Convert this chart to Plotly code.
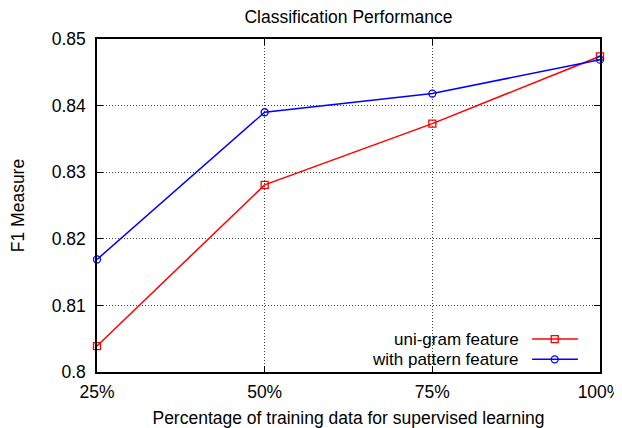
import plotly.graph_objects as go

x_pct = [25, 50, 75, 100]
x_labels = ["25%", "50%", "75%", "100%"]
unigram = [0.8039, 0.8281, 0.8373, 0.8474]
pattern = [0.8169, 0.8390, 0.8418, 0.8469]
y_ticks = [0.8, 0.81, 0.82, 0.83, 0.84, 0.85]
y_labels = ["0.8", "0.81", "0.82", "0.83", "0.84", "0.85"]
series_names = ["uni-gram feature", "with pattern feature"]

FONT = "Liberation Sans, Arial, Helvetica, sans-serif"
FS = 17.5
RED = "#ff0000"
BLUE = "#0000ff"

fig = go.Figure()
fig.add_trace(go.Scatter(x=x_pct, y=unigram, mode="lines+markers", name=series_names[0],
                         line=dict(color=RED, width=1.5),
                         marker=dict(symbol="square-open", size=7, color=RED, line=dict(width=1.3)),
                         cliponaxis=False, showlegend=False))
fig.add_trace(go.Scatter(x=x_pct, y=pattern, mode="lines+markers", name=series_names[1],
                         line=dict(color=BLUE, width=1.5),
                         marker=dict(symbol="circle-open", size=7, color=BLUE, line=dict(width=1.3)),
                         cliponaxis=False, showlegend=False))

# gnuplot-style legend (text left of sample)
leg_rows = [(0.099, RED, "square-open", series_names[0]), (0.038, BLUE, "circle-open", series_names[1])]
for yy, col, sym, name in leg_rows:
    fig.add_annotation(xref="paper", yref="paper", x=0.843, y=yy, text=name, showarrow=False,
                       xanchor="right", yanchor="middle",
                       font=dict(family=FONT, size=17, color="black"))
    fig.add_shape(type="line", xref="paper", yref="paper", x0=0.865, x1=0.956, y0=yy, y1=yy,
                  line=dict(color=col, width=1.5))
    fig.add_trace(go.Scatter(x=[0.91], y=[yy], xaxis="x2", yaxis="y2", mode="markers",
                             marker=dict(symbol=sym, size=7, color=col, line=dict(width=1.3)),
                             showlegend=False, hoverinfo="skip", cliponaxis=False))

grid_style = dict(showgrid=True, gridcolor="#444444", griddash="1px,2px", gridwidth=1)

# page body has an 8px default margin; figure sized so the plot lands where the reference has it
fig.update_layout(
    width=614, height=420,
    margin=dict(l=89, r=22, t=31, b=56, autoexpand=False),
    paper_bgcolor="white", plot_bgcolor="white",
    font=dict(family=FONT, size=FS, color="black"),
    title=dict(text="Classification Performance", x=0.5, xref="paper", xanchor="center",
               y=0.980, yanchor="middle",
               font=dict(family=FONT, size=FS, color="black")),
    xaxis=dict(range=[25, 100], tickvals=x_pct, ticktext=x_labels, automargin=False,
               showline=True, linecolor="black", linewidth=1.5, mirror="ticks",
               ticks="inside", ticklen=6, tickcolor="black", ticklabelstandoff=3,
               ticklabeloverflow="allow",
               zeroline=False, tickfont=dict(size=FS), **grid_style,
               title=dict(text="Percentage of training data for supervised learning",
                          font=dict(size=FS), standoff=11)),
    yaxis=dict(range=[0.8, 0.85], tickvals=y_ticks, ticktext=y_labels, automargin=False,
               showline=True, linecolor="black", linewidth=1.5, mirror="ticks",
               ticks="inside", ticklen=6, tickcolor="black", ticklabelstandoff=6,
               ticklabeloverflow="allow",
               zeroline=False, tickfont=dict(size=FS), **grid_style,
               title=dict(text="F1 Measure", font=dict(size=FS), standoff=30)),
    xaxis2=dict(range=[0, 1], overlaying="x", visible=False),
    yaxis2=dict(range=[0, 1], overlaying="y", visible=False),
)

fig.write_html("out.html")
